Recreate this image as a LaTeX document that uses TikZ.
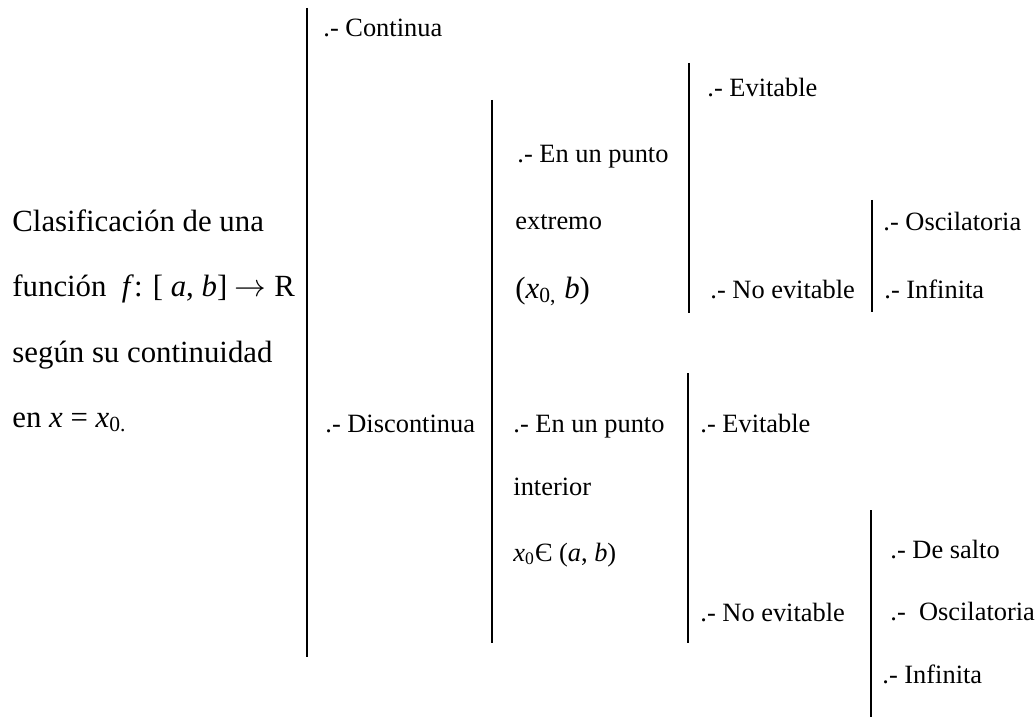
\documentclass[tikz,border=0pt]{standalone}
\usepackage{fontspec}
\setmainfont{Liberation Serif}
\usetikzlibrary{positioning}

\begin{document}
\begin{tikzpicture}[
    x=0.4545pt, y=-0.4545pt,
    item/.style ={anchor=base west, inner sep=0pt, font=\fontsize{12}{14}\selectfont},
    title/.style={item, font=\fontsize{14}{17}\selectfont},
    bar/.style  ={line width=0.9pt, black}
]
\useasboundingbox (0,0) rectangle (1035,718);

\node[title] (cls1) at (12,232) {Clasificación de una};
\node[title] (cls2) at (12,297) {función \ \textit{f}: [ \textit{a}, \textit{b}] $\rightarrow$ R};
\node[title] (cls3) at (12,362) {según su continuidad};
\node[title] (cls4) at (12,427) {en \textit{x} = \textit{x}\textsubscript{0.}};

\node[item] (cont) at (323,37)  {.- Continua};
\node[item] (disc) at (325,432) {.- Discontinua};

\node[item] (ext1) at (517,162) {.- En un punto};
\node[item] (ext2) at (515,230) {extremo};
\node[item] (ext3) at (515,298) {\fontsize{14}{17}\selectfont(\textit{x}\textsubscript{0,} \textit{b})};
\node[item] (int1) at (513,432) {.- En un punto};
\node[item] (int2) at (513,495) {interior};
\node[item] (int3) at (513,561) {\textit{x}\textsubscript{0}Є (\textit{a}, \textit{b})};

\node[item] (evu)  at (707,97)  {.- Evitable};
\node[item] (nevu) at (710,298) {.- No evitable};
\node[item] (evl)  at (700,432) {.- Evitable};
\node[item] (nevl) at (700,621) {.- No evitable};

\node[item] (oscu) at (883,231) {.- Oscilatoria};
\node[item] (infu) at (884,298) {.- Infinita};
\node[item] (sal)  at (890,558) {.- De salto};
\node[item] (oscl) at (890,620) {.- \ Oscilatoria};
\node[item] (infl) at (882,683) {.- Infinita};

% bars
\coordinate (topA) at (307,8);   \coordinate (botA) at (307,657);
\coordinate (topB) at (492,100); \coordinate (botB) at (492,643);
\coordinate (topD) at (689,63);  \coordinate (botD) at (689,313);
\coordinate (topC) at (688,373); \coordinate (botC) at (688,643);
\coordinate (topE) at (872,200); \coordinate (botE) at (872,312);
\coordinate (topF) at (871,510); \coordinate (botF) at (871,717);

\draw[bar] (topA) -- (botA);
\draw[bar] (topB) -- (botB);
\draw[bar] (topD) -- (botD);
\draw[bar] (topC) -- (botC);
\draw[bar] (topE) -- (botE);
\draw[bar] (topF) -- (botF);

\end{tikzpicture}
\end{document}
